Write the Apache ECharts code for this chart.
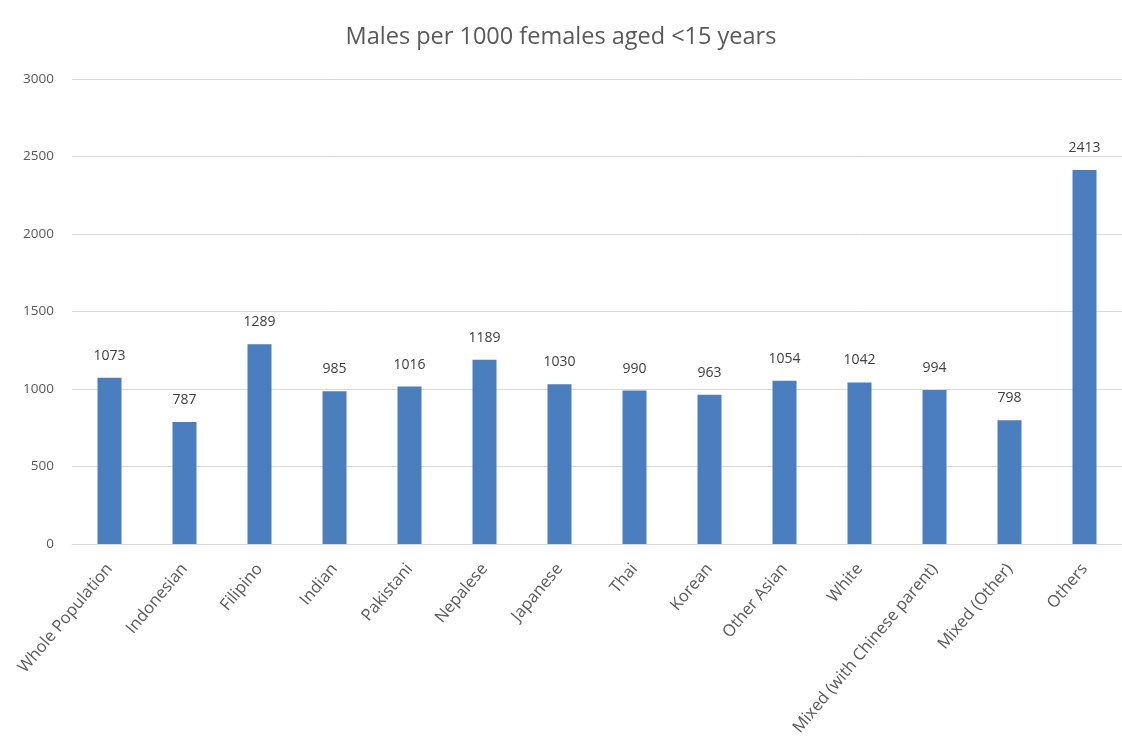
<!DOCTYPE html>
<html><head><meta charset="utf-8">
<script src="https://cdn.jsdelivr.net/npm/echarts@6/dist/echarts.min.js"></script>
<style>html,body{margin:0;padding:0;background:#fff}#c{width:1122px;height:749px}</style>
</head><body><div id="c"></div>
<script>
const categories = ["Whole Population","Indonesian","Filipino","Indian","Pakistani","Nepalese","Japanese","Thai","Korean","Other Asian","White","Mixed (with Chinese parent)","Mixed (Other)","Others"];
const values = [1073,787,1289,985,1016,1189,1030,990,963,1054,1042,994,798,2413];
const yTicks = [0,500,1000,1500,2000,2500,3000];
const chart = echarts.init(document.getElementById('c'));
chart.setOption({
  backgroundColor:'#fff',
  animation:false,
  title:{text:'Males per 1000 females aged <15 years',left:'center',top:20,
    textStyle:{fontFamily:'Open Sans',fontWeight:'normal',fontSize:23.5,color:'#595959'}},
  grid:{left:72,right:-13,top:79,bottom:205,containLabel:false},
  xAxis:{type:'category',data:categories,
    axisLine:{lineStyle:{color:'#d9d9d9'}},axisTick:{show:false},
    axisLabel:{rotate:50,interval:0,margin:22,color:'#595959',fontFamily:'Open Sans',fontSize:16.5}},
  yAxis:{type:'value',min:yTicks[0],max:yTicks[yTicks.length-1],interval:500,
    axisLine:{show:false},axisTick:{show:false},
    splitLine:{lineStyle:{color:'#d9d9d9'}},
    axisLabel:{margin:18,color:'#595959',fontFamily:'Open Sans',fontSize:13.5,formatter:v=>String(v)}},
  series:[{type:'bar',data:values,barWidth:24,
    itemStyle:{color:'#4a7ebf'},
    label:{show:true,position:'top',distance:15,color:'#404040',fontFamily:'Open Sans',fontSize:14}}]
});
</script></body></html>
